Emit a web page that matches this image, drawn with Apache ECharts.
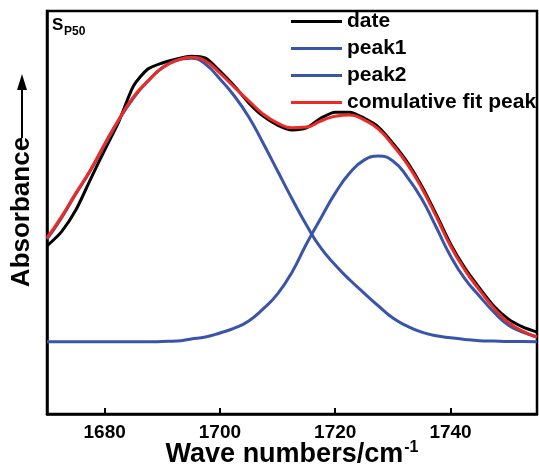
<!DOCTYPE html>
<html>
<head>
<meta charset="utf-8">
<script src="https://cdn.jsdelivr.net/npm/echarts@6/dist/echarts.min.js"></script>
<style>html,body{margin:0;padding:0;background:#fff}#c{width:539px;height:464px}</style>
</head>
<body>
<div id="c"></div>
<script>
// wavenumbers (cm-1)
const wavenumbers = [1670,1672.5,1675,1677.5,1680,1682.5,1685,1687.5,1690,1692.5,1695,1697.5,1700,1702.5,1705,1707.5,1710,1712.5,1715,1717.5,1720,1722.5,1725,1727.5,1730,1732.5,1735,1737.5,1740,1742.5,1745,1747.5,1750,1752.5,1755];
// measured spectrum
const dateValues = [0.417,0.452,0.506,0.581,0.655,0.727,0.814,0.856,0.871,0.881,0.888,0.883,0.851,0.814,0.772,0.739,0.717,0.705,0.710,0.734,0.749,0.749,0.734,0.712,0.672,0.625,0.566,0.496,0.422,0.362,0.313,0.268,0.236,0.216,0.203];
// fitted component 1
const peak1Values = [0.434,0.486,0.546,0.603,0.667,0.730,0.784,0.826,0.859,0.878,0.883,0.868,0.831,0.789,0.737,0.672,0.603,0.534,0.469,0.412,0.370,0.333,0.300,0.268,0.238,0.218,0.203,0.194,0.189,0.185,0.182,0.181,0.180,0.180,0.179];
// fitted component 2
const peak2Values = [0.179,0.179,0.179,0.179,0.179,0.179,0.179,0.179,0.180,0.181,0.186,0.191,0.201,0.213,0.231,0.261,0.298,0.352,0.422,0.486,0.548,0.598,0.630,0.640,0.628,0.588,0.534,0.464,0.392,0.335,0.293,0.253,0.221,0.203,0.191];
// cumulative fit
const cumulativeValues = [0.437,0.489,0.548,0.605,0.670,0.732,0.787,0.826,0.859,0.877,0.885,0.876,0.846,0.811,0.777,0.744,0.722,0.710,0.712,0.727,0.739,0.742,0.730,0.707,0.667,0.620,0.561,0.491,0.417,0.357,0.308,0.263,0.228,0.206,0.191];
const xTicks = [1680,1700,1720,1740];
const seriesNames = ['date','peak1','peak2','comulative fit peak'];

const pairs = v => wavenumbers.map((x,i)=>[x,v[i]]);
const FONT = 'Liberation Sans, Arial, sans-serif';
const chart = echarts.init(document.getElementById('c'));
const mk = (name, vals, color, smooth) => ({
  name, type:'line', data: pairs(vals), smooth, symbol:'none', showSymbol:false,
  lineStyle:{color, width:3}, itemStyle:{color}, animation:false
});
chart.setOption({
  animation:false,
  grid:{left:47, right:2, top:11, bottom:50, show:true, borderColor:'#000', borderWidth:2.5, backgroundColor:'transparent', containLabel:false, outerBoundsMode:'none'},
  xAxis:{
    type:'value', min:1670, max:1755,
    axisLine:{show:true, lineStyle:{color:'#000', width:2.5}},
    axisTick:{show:true, inside:true, length:6, lineStyle:{color:'#000', width:2}, customValues:xTicks},
    axisLabel:{color:'#000', fontSize:19, fontWeight:'bold', fontFamily:FONT, margin:9, customValues:xTicks, formatter:v=>String(v)},
    splitLine:{show:false},
    name:'{m|Wave numbers/cm}{s|-1}', nameLocation:'middle', nameGap:26, nameMoveOverlap:false,
    nameTextStyle:{rich:{
      m:{fontSize:27, fontWeight:'bold', color:'#000', fontFamily:FONT},
      s:{fontSize:16, fontWeight:'bold', color:'#000', fontFamily:FONT, verticalAlign:'top', padding:[0,0,14,1]}
    }}
  },
  yAxis:{
    type:'value', min:0, max:1,
    axisLine:{show:true, lineStyle:{color:'#000', width:2.5}},
    axisTick:{show:false}, axisLabel:{show:false}, splitLine:{show:false}
  },
  legend:{
    orient:'vertical', left:286, top:6, itemWidth:51, itemHeight:3, itemGap:6, icon:'rect',
    data:seriesNames,
    textStyle:{color:'#000', fontSize:21, fontWeight:'bold', fontFamily:FONT, lineHeight:19, padding:[0,0,0,0]}
  },
  graphic:[
    {type:'text', left:52, top:17, style:{text:'S', font:'bold 17px '+FONT, fill:'#000'}},
    {type:'text', left:64, top:26, style:{text:'P50', font:'bold 12px '+FONT, fill:'#000'}},
    {type:'text', x:22, y:212, rotation:Math.PI/2, style:{text:'Absorbance', font:'bold 26px '+FONT, fill:'#000', align:'center', verticalAlign:'middle'}},
    {type:'line', shape:{x1:22, y1:138, x2:22, y2:86}, style:{stroke:'#000', lineWidth:2}},
    {type:'polygon', shape:{points:[[22,74],[17,90],[27,90]]}, style:{fill:'#000'}}
  ],
  series:[
    mk(seriesNames[0], dateValues, '#000000', 0.25),
    mk(seriesNames[1], peak1Values, '#3a54a9', true),
    mk(seriesNames[2], peak2Values, '#3a54a9', true),
    mk(seriesNames[3], cumulativeValues, '#ee2a24', true)
  ]
});
</script>
</body>
</html>
